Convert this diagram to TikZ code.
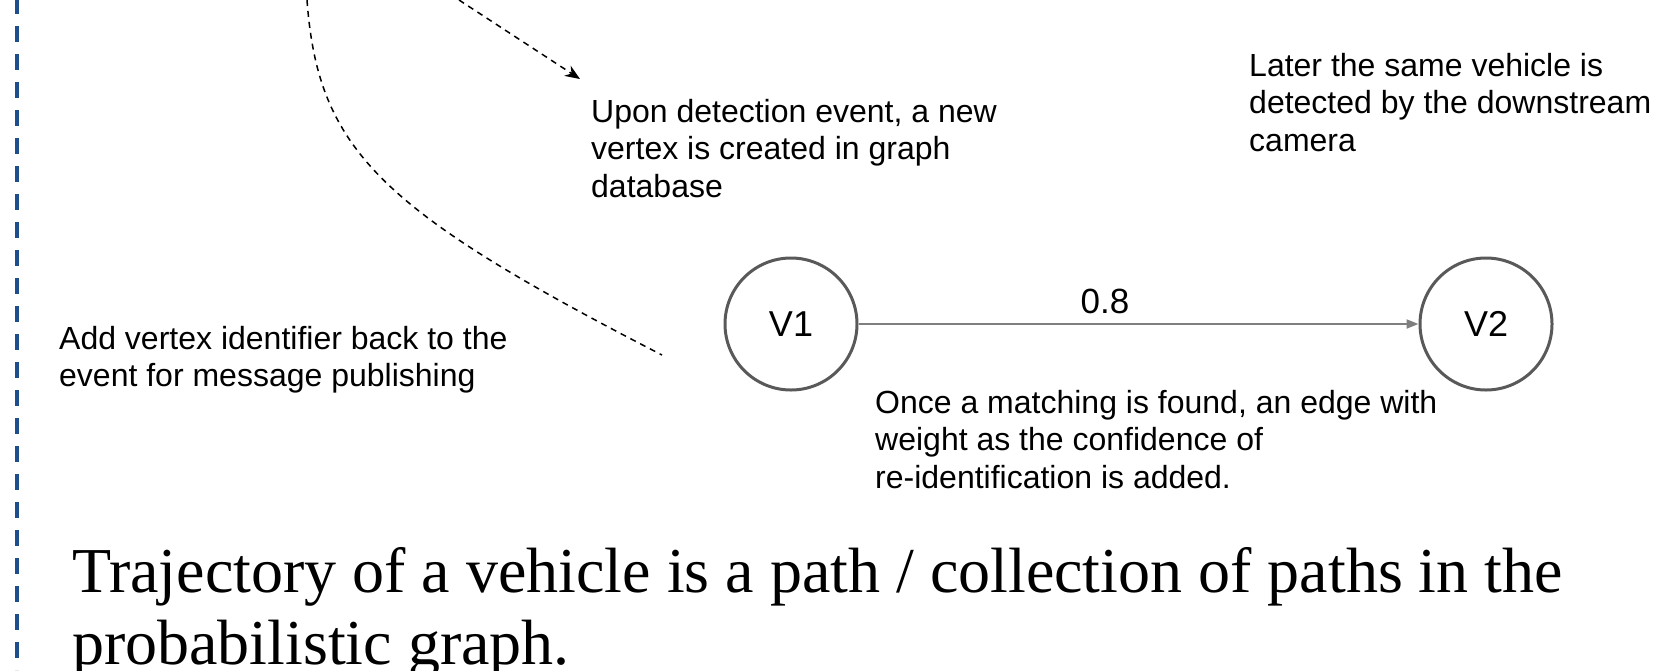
\documentclass[tikz,border=0pt]{standalone}
\usepackage{fontspec}
\setmainfont{Liberation Serif}
\setsansfont{Liberation Sans}
\usetikzlibrary{arrows.meta}
\definecolor{borderblue}{HTML}{1F4E8C}
\definecolor{vgray}{HTML}{595959}
\definecolor{egray}{HTML}{7F7F7F}
\tikzset{
  note/.style={font=\sffamily\fontsize{32}{37.5}\selectfont, align=left, inner sep=0pt, anchor=base west},
  vtx/.style={circle, draw=vgray, line width=3pt, minimum size=132pt, inner sep=0pt, font=\sffamily\fontsize{36}{40}\selectfont},
  edgeline/.style={draw=egray, line width=2pt, -{Triangle[length=12pt,width=9pt]}},
  dashline/.style={line width=1.5pt, dash pattern=on 6pt off 5pt},
  bigtext/.style={font=\fontsize{64}{72.5}\selectfont, align=left, inner sep=0pt, anchor=base west},
}
\begin{document}
\begin{tikzpicture}[x=1pt,y=-1pt]
\useasboundingbox (0,0) rectangle (1673,670);
% left dashed border
\coordinate (bt) at (16.7,0);
\coordinate (bb) at (16.7,670);
\draw[borderblue, line width=4pt, dash pattern=on 16pt off 12pt, dash phase=2pt] (bt) -- (bb);
% dashed curve
\coordinate (cs) at (307,0);
\coordinate (ce) at (662,355);
\draw[dashline] (cs) .. controls (318,150) and (380,210) .. (ce);
% dashed arrow
\coordinate (as) at (459,0);
\coordinate (ae) at (580,79);
\draw[dashline, -{Stealth[length=15pt,width=12pt]}] (as) -- (ae);
% notes (anchored at the baseline of their last line)
\node[note] (n1) at (591,197) {Upon detection event, a new\\vertex is created in graph\\database};
\node[note] (n2) at (1249,151) {Later the same vehicle is\\detected by the downstream\\camera};
\node[note] (n3) at (59,386.5) {Add vertex identifier back to the\\event for message publishing};
\node[note] (n4) at (875,488) {Once a matching is found, an edge with\\weight as the confidence of\\re-identification is added.};
% vertices
\node[vtx] (v1) at (791,324) {V1};
\node[vtx] (v2) at (1486,324) {V2};
\draw[edgeline] (v1) -- (v2) node[pos=0.44, anchor=base, yshift=11pt, font=\sffamily\fontsize{35}{40}\selectfont, inner sep=0pt] (w) {0.8};
% big text
\node[bigtext] (t) at (72,664.5) {Trajectory of a vehicle is a path / collection of paths in the\\probabilistic graph.};
\end{tikzpicture}
\end{document}
